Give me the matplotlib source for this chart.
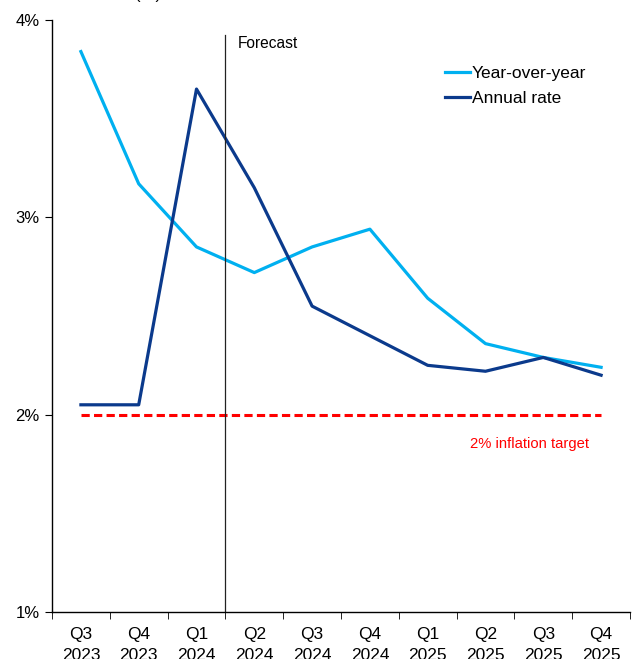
import numpy as np
import matplotlib.pyplot as plt

plt.rcParams['font.family'] = ['Liberation Sans', 'DejaVu Sans']

quarters = ['Q3\n2023', 'Q4\n2023', 'Q1\n2024', 'Q2\n2024', 'Q3\n2024',
            'Q4\n2024', 'Q1\n2025', 'Q2\n2025', 'Q3\n2025', 'Q4\n2025']
yoy = [3.84, 3.17, 2.85, 2.72, 2.85, 2.94, 2.59, 2.36, 2.29, 2.24]
annual = [2.05, 2.05, 3.65, 3.15, 2.55, 2.40, 2.25, 2.22, 2.29, 2.20]
target = 2.0
forecast_at = 2.5

x = np.arange(len(quarters))

fig = plt.figure(figsize=(6.32, 6.59), dpi=100)
ax = fig.add_axes([52/632, 47/659, 578/632, 592/659])

ax.plot(x, yoy, color='#00B0F0', lw=2.3, label='Year-over-year')
ax.plot(x, annual, color='#0B3A8C', lw=2.3, label='Annual rate')
ax.plot([x[0], x[-1]], [target, target], color='#FF0000', lw=2.2, dashes=(2.7, 1.4))

ax.axvline(forecast_at, ymin=0, ymax=0.975, color='#222222', lw=0.9)
ax.text(2.72, 3.88, 'Forecast', fontsize=11.2, va='center', ha='left')
ax.text(7.76, 1.85, '2% inflation target', fontsize=10.6, color='#FF0000',
        va='center', ha='center')

ax.set_xlim(-0.5, len(quarters) - 0.5)
ax.set_ylim(1, 4)
ax.set_yticks([1, 2, 3, 4])
ax.set_yticklabels(['1%', '2%', '3%', '4%'], fontsize=12)
ax.set_xticks(x)
ax.set_xticklabels(quarters, fontsize=12.5, linespacing=1.45)
ax.set_xticks(np.arange(-0.5, len(quarters)), minor=True)
ax.tick_params(axis='x', which='major', length=0, pad=11)
ax.tick_params(axis='x', which='minor', length=5, direction='out')
ax.tick_params(axis='y', length=5, direction='out', pad=4)

for s in ['top', 'right']:
    ax.spines[s].set_visible(False)
for s in ['left', 'bottom']:
    ax.spines[s].set_color('black')
    ax.spines[s].set_linewidth(1)

ax.legend(loc='upper left', bbox_to_anchor=(0.653, 0.949), frameon=False,
          fontsize=12.5, handlelength=1.45, handletextpad=0.1, labelspacing=0.58)

fig.text(148/632, 1.008, '(%)', fontsize=12, ha='center', va='center')

fig.savefig('out.png', dpi=100)
